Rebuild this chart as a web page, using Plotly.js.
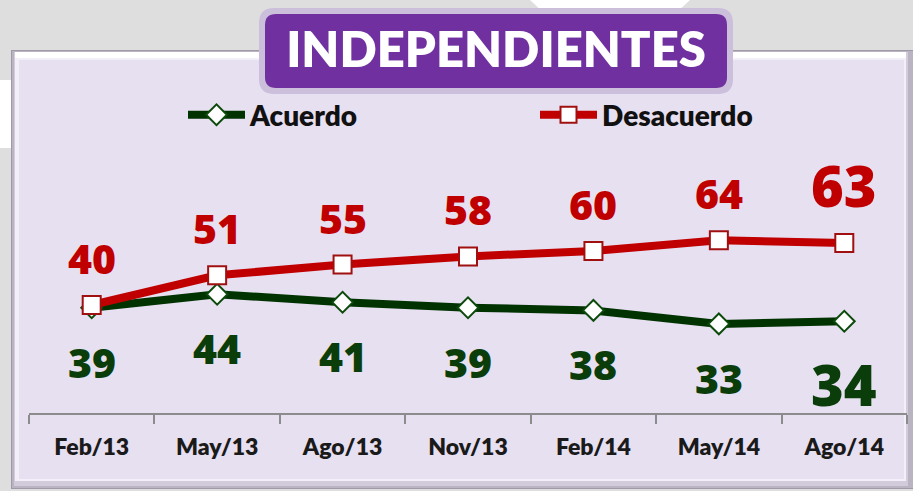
<!DOCTYPE html>
<html>
<head>
<meta charset="utf-8">
<script src="https://cdn.plot.ly/plotly-3.0.1.min.js"></script>
<style>
  html, body { margin: 0; padding: 0; background: #dedede; }
  #chart { width: 913px; height: 491px; }
</style>
</head>
<body>
<div id="chart"></div>
<script>
// Survey periods and the two answer series (percent)
const categories = ['Feb/13', 'May/13', 'Ago/13', 'Nov/13', 'Feb/14', 'May/14', 'Ago/14'];
const acuerdo = [39, 44, 41, 39, 38, 33, 34];
const desacuerdo = [40, 51, 55, 58, 60, 64, 63];
const seriesNames = ['Acuerdo', 'Desacuerdo'];
const chartTitle = 'INDEPENDIENTES';

const W = 913, H = 491;
const M = { l: 29, r: 6, t: 143, b: 78 };
const PW = W - M.l - M.r, PH = H - M.t - M.b;

// pixel -> paper coordinates (for decorative panel shapes)
const px = x => (x - M.l) / PW;
const py = y => (H - M.b - y) / PH;

function rect(x0, y0, x1, y1, color, layer) {
  return { type: 'rect', xref: 'paper', yref: 'paper', x0: px(x0), x1: px(x1), y0: py(y1), y1: py(y0),
           fillcolor: color, line: { width: 0 }, layer: layer || 'below' };
}
function roundRect(x0, y0, x1, y1, r, color) {
  const P = (x, y) => px(x) + ',' + py(y);
  const d = 'M' + P(x0 + r, y0) + ' L' + P(x1 - r, y0) + ' Q' + P(x1, y0) + ' ' + P(x1, y0 + r) +
            ' L' + P(x1, y1 - r) + ' Q' + P(x1, y1) + ' ' + P(x1 - r, y1) +
            ' L' + P(x0 + r, y1) + ' Q' + P(x0, y1) + ' ' + P(x0, y1 - r) +
            ' L' + P(x0, y0 + r) + ' Q' + P(x0, y0) + ' ' + P(x0 + r, y0) + ' Z';
  return { type: 'path', xref: 'paper', yref: 'paper', path: d, fillcolor: color, line: { width: 0 }, layer: 'below' };
}

const shapes = [
  // soft white background patches
  { type: 'path', xref: 'paper', yref: 'paper', path: 'M' + px(530) + ',' + py(0) + ' L' + px(690) + ',' + py(0) + ' L' + px(675) + ',' + py(14) + ' L' + px(545) + ',' + py(14) + ' Z',
    fillcolor: '#ffffff', line: { width: 0 }, layer: 'below' },
  rect(0, 80, 12, 148, '#ffffff'),
  // bevelled lavender panel
  rect(11, 50, 913, 489, '#9f99a8'),
  rect(12, 51, 913, 488, '#b9b3c2'),
  rect(14, 52, 908, 486, '#d2cbdc'),
  rect(15, 52, 906, 481, '#f3eff8'),
  rect(15, 52, 906, 58, '#ffffff'),
  rect(19, 60, 904, 479, '#e7e0f1'),
  // title badge
  roundRect(259, 8, 733, 94, 15, '#cbbfdc'),
  roundRect(265, 14, 727, 88, 11, '#7030a0')
];

const fontFam = 'Lato, "Open Sans", sans-serif';
const numFam = '"Open Sans", Lato, sans-serif';

const traces = [
  {
    type: 'scatter', mode: 'lines+markers', name: seriesNames[0], legend: 'legend',
    x: categories, y: acuerdo, cliponaxis: false,
    line: { color: '#003300', width: 8 },
    marker: { symbol: 'diamond', size: 16, color: '#ffffff', line: { color: '#0b4a0b', width: 2 } }
  },
  {
    type: 'scatter', mode: 'lines+markers', name: seriesNames[1], legend: 'legend2',
    x: categories, y: desacuerdo, cliponaxis: false,
    line: { color: '#c00000', width: 8 },
    marker: { symbol: 'square', size: 18, color: '#ffffff', line: { color: '#a01010', width: 2 } }
  }
];

// value labels: red above its line, green below; the latest survey is emphasised
const annotations = [];
const last = categories.length - 1;
categories.forEach((c, i) => {
  const big = i === last;
  annotations.push({
    x: c, y: desacuerdo[i], text: String(desacuerdo[i]), showarrow: false,
    yanchor: 'middle', yshift: big ? 58 : 47,
    font: { family: numFam, size: big ? 56 : 41, color: '#c00000', weight: 800 }
  });
  annotations.push({
    x: c, y: acuerdo[i], text: String(acuerdo[i]), showarrow: false,
    yanchor: 'middle', yshift: big ? -63 : -54,
    font: { family: numFam, size: big ? 56 : 41, color: '#0a3d0a', weight: 800 }
  });
});

const legendStyle = x => ({
  orientation: 'h', xref: 'paper', yref: 'paper',
  x: x, xanchor: 'left', y: py(115), yanchor: 'middle',
  bgcolor: 'rgba(0,0,0,0)',
  font: { family: fontFam, size: 28, color: '#111111', weight: 800 },
  itemwidth: 57
});

const layout = {
  width: W, height: H,
  margin: M,
  paper_bgcolor: '#dedede',
  plot_bgcolor: 'rgba(0,0,0,0)',
  showlegend: true,
  title: {
    text: chartTitle,
    xref: 'container', yref: 'container',
    x: 496 / W, xanchor: 'center',
    y: 1 - 50 / H, yanchor: 'middle',
    font: { family: fontFam, size: 49, color: '#ffffff', weight: 800 }
  },
  legend: legendStyle(px(183)),
  legend2: legendStyle(px(535)),
  xaxis: {
    type: 'category', range: [-0.5, categories.length - 0.5],
    tickson: 'boundaries', ticks: 'outside', ticklen: 9, tickwidth: 2, tickcolor: '#8c8c8c',
    showline: true, linecolor: '#8c8c8c', linewidth: 2,
    showgrid: false, zeroline: false, fixedrange: true,
    ticklabelstandoff: 12,
    tickfont: { family: fontFam, size: 23, color: '#1a1a1a', weight: 800 }
  },
  yaxis: { range: [0, 100], visible: false, fixedrange: true },
  shapes: shapes,
  annotations: annotations
};

Plotly.newPlot('chart', traces, layout, { displayModeBar: false, staticPlot: true });
</script>
</body>
</html>
